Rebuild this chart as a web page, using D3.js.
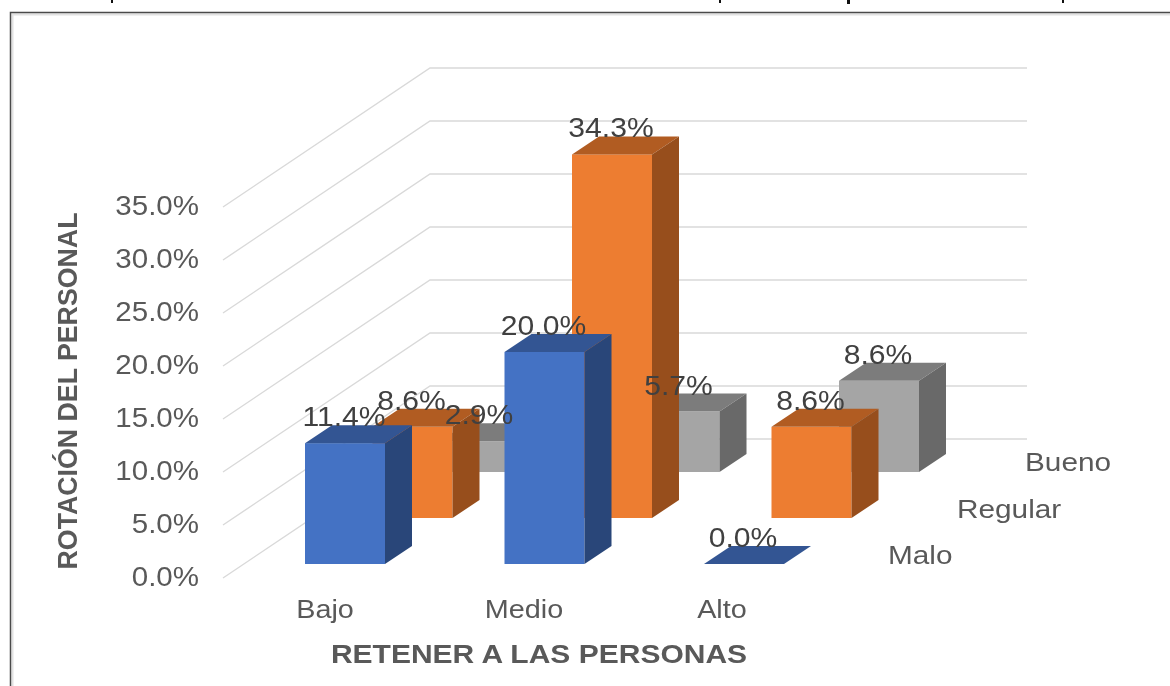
<!DOCTYPE html>
<html><head><meta charset="utf-8">
<script src="https://cdn.jsdelivr.net/npm/d3@7"></script>
<style>html,body{margin:0;padding:0;background:#fff}svg{display:block;filter:blur(0.45px)}text{font-family:"Liberation Sans",Arial,sans-serif}</style>
</head><body><svg id="c" width="1170" height="686"></svg>
<script>
const categories = ["Bajo","Medio","Alto"];
const seriesNames = ["Malo","Regular","Bueno"];
const malo = [11.4,20.0,0.0];
const regular = [8.6,34.3,8.6];
const bueno = [2.9,5.7,8.6];
const yTicks = [0,5,10,15,20,25,30,35];
const seriesValues = [malo,regular,bueno];
const faces = [
 {front:"#4472c4",top:"#335593",side:"#294679"},
 {front:"#ed7d31",top:"#b15c22",side:"#974e1c"},
 {front:"#a5a5a5",top:"#7c7c7c",side:"#696969"}];

const svg = d3.select("#c");
const xCat = d3.scalePoint().domain(categories).range([305,704]);
const h = d3.scaleLinear().domain([0,35]).range([0,371]);
const depthX = d3.scalePoint().domain(seriesNames).range([0,135]);
const depthY = d3.scalePoint().domain(seriesNames).range([564,472]);
const barW = 80, dX = 27, dY = 18;
const col = "#595959";
// the reference's text is stretched horizontally
const stretch = (sel,k) => sel.each(function(){
  this.setAttribute("textLength", this.getComputedTextLength()*k);
  this.setAttribute("lengthAdjust","spacingAndGlyphs");
});

// frame with its soft inner shadow, and the cut-off line of text above it
svg.append("path").attr("d","M12.5,686V14.5H1170").attr("fill","none").attr("stroke","#e2e2e2").attr("stroke-width",2);
svg.append("path").attr("d","M10.5,686V12.5H1170").attr("fill","none").attr("stroke","#4a4a4a").attr("stroke-width",1.5);
svg.append("path").attr("d","M111,0h2v3h-2zM719,0h2v3h-2zM847,0h3v4h-3zM1062,0h2v3h-2z").attr("fill","#111");

// gridlines
const backBase = 439;
const grid = svg.append("g").attr("fill","none").attr("stroke","#d9d9d9").attr("stroke-width",1.4);
yTicks.forEach(t=>{
  const y = backBase - h(t);
  grid.append("path").attr("d",`M223,${y+139}L430,${y}H1027`);
});

// bars, back to front
const labels = [];
for (let s=2;s>=0;s--){
  const name = seriesNames[s], g = svg.append("g"), f = faces[s];
  categories.forEach((c,i)=>{
    const v = seriesValues[s][i];
    const x = xCat(c)+depthX(name), base = depthY(name), t = base-h(v);
    if (v>0) g.append("rect").attr("x",x).attr("y",t).attr("width",barW).attr("height",base-t).attr("fill",f.front);
    g.append("path").attr("d",`M${x},${t}l${dX},${-dY}h${barW}l${-dX},${dY}z`).attr("fill",f.top);
    if (v>0) g.append("path").attr("d",`M${x+barW},${t}l${dX},${-dY}V${base-dY}L${x+barW},${base}z`).attr("fill",f.side);
    labels.push({x:x+barW/2-1,y:t-dY+1,v});
  });
}
// data labels
svg.append("g").selectAll("text").data(labels).join("text")
  .attr("x",d=>d.x).attr("y",d=>d.y).attr("text-anchor","middle")
  .attr("font-size",27.5).attr("fill","#404040")
  .text(d=>d.v.toFixed(1)+"%").call(stretch,1.095);

// y ticks
svg.append("g").selectAll("text").data(yTicks).join("text")
  .attr("x",199).attr("y",t=>585.5-h(t)).attr("text-anchor","end")
  .attr("font-size",27.5).attr("fill",col).text(t=>t.toFixed(1)+"%").call(stretch,1.073);

// category labels
svg.append("g").selectAll("text").data(categories).join("text")
  .attr("x",(c,i)=>[325,524,722][i]).attr("y",618).attr("text-anchor","middle")
  .attr("font-size",25.5).attr("fill",col).text(c=>c).call(stretch,1.13);

// series labels
svg.append("g").selectAll("text").data(seriesNames).join("text")
  .attr("x",(c,i)=>[888,957,1025][i]).attr("y",(c,i)=>[564,518,471][i])
  .attr("font-size",25.5).attr("fill",col).text(c=>c).call(stretch,1.167);

// axis titles
svg.append("text").attr("x",539).attr("y",662.5).attr("text-anchor","middle").attr("font-size",26.5)
  .attr("font-weight","bold").attr("fill",col).text("RETENER A LAS PERSONAS").call(stretch,1.132);
svg.append("text").attr("transform","translate(77,391) rotate(-90)").attr("text-anchor","middle").attr("font-size",27)
  .attr("font-weight","bold").attr("fill",col).text("ROTACIÓN DEL PERSONAL").call(stretch,0.99);
</script></body></html>
